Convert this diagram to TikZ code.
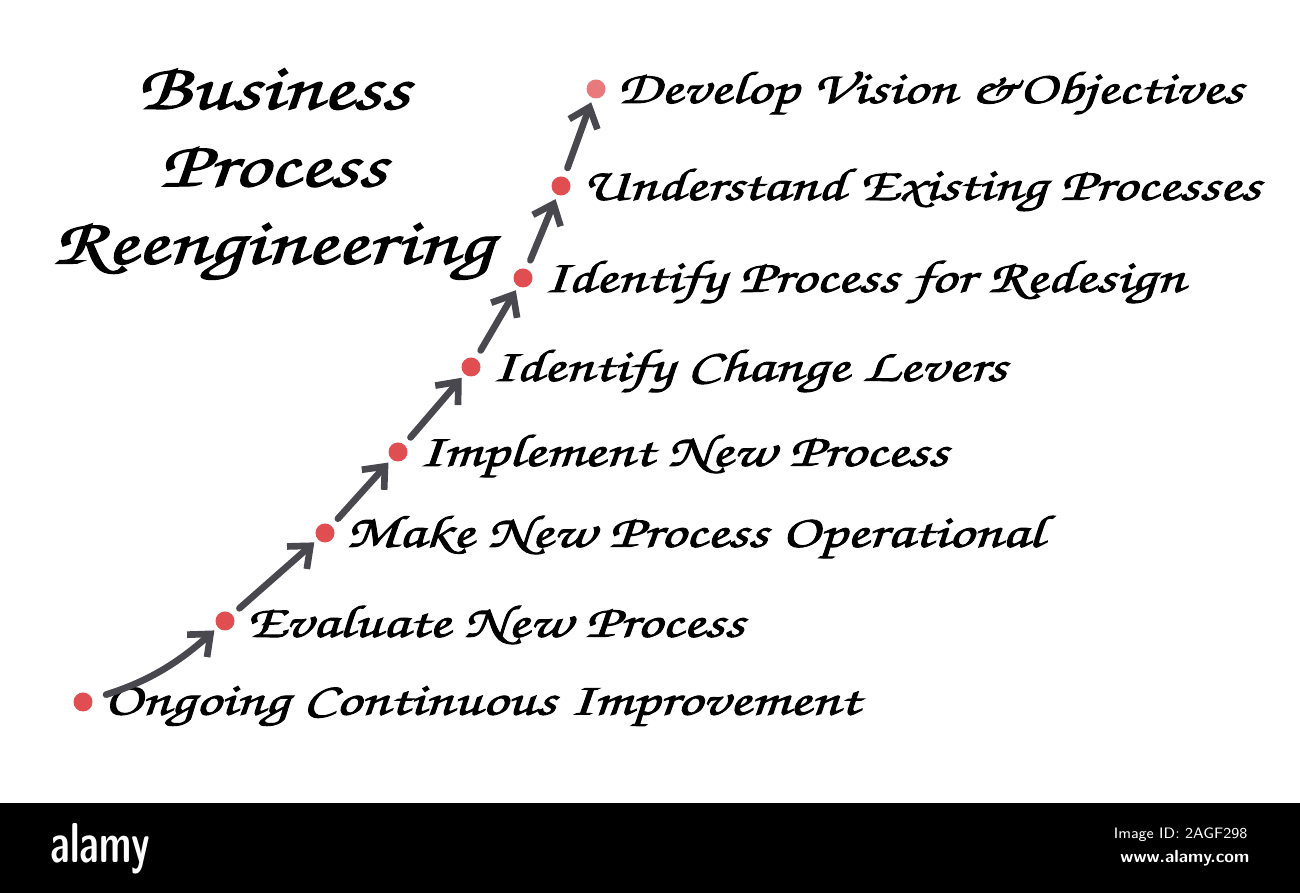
\documentclass[tikz,border=0pt]{standalone}
\usepackage{fontspec}
\newfontfamily\handfont[FakeBold=2,FakeStretch=1.37]{TeX Gyre Chorus}
\usetikzlibrary{positioning,arrows.meta}
\definecolor{dotred}{RGB}{224,78,82}
\definecolor{arrowgray}{RGB}{72,72,78}

\begin{document}
\begin{tikzpicture}[node distance=0.1cm]
  \tikzstyle{stepdot}=[circle,fill=dotred,inner sep=0pt,minimum size=1.9mm]
  \tikzstyle{steptext}=[inner sep=0pt,yshift=-0.04cm,font=\handfont\fontsize{13}{15}\selectfont]
  \tikzstyle{flow}=[draw=arrowgray,line width=1.9pt,line cap=round,shorten <=0.9mm,shorten >=0.4mm,-{Straight Barb[length=1.8mm,width=3mm]}]
  \useasboundingbox (0,0) rectangle (13,8.93);

  % title
  \node[align=center,inner sep=0pt,font=\handfont\fontsize{18.5}{22}\selectfont] (title) at (2.73,7.19) {Business\\Process\\Reengineering};

  % steps
  \node[stepdot] (p1) at (0.83,1.91) {};
  \node[stepdot] (p2) at (2.25,2.72) {};
  \node[stepdot] (p3) at (3.25,3.60) {};
  \node[stepdot] (p4) at (3.98,4.41) {};
  \node[stepdot] (p5) at (4.71,5.26) {};
  \node[stepdot] (p6) at (5.23,6.15) {};
  \node[stepdot] (p7) at (5.61,7.07) {};
  \node[stepdot,fill=dotred!75] (p8) at (5.96,8.04) {};

  \node[steptext, right=of p1] (t1) {Ongoing Continuous Improvement};
  \node[steptext, right=of p2] (t2) {Evaluate New Process};
  \node[steptext, right=of p3] (t3) {Make New Process Operational};
  \node[steptext, right=of p4] (t4) {Implement New Process};
  \node[steptext, right=of p5] (t5) {Identify Change Levers};
  \node[steptext, right=of p6] (t6) {Identify Process for Redesign};
  \node[steptext, right=of p7] (t7) {Understand Existing Processes};
  \node[steptext, right=of p8] (t8) {Develop Vision \&Objectives};

  % arrows
  \draw[flow,shorten <=1.4mm] (p1) to[bend right=12] (p2);
  \draw[flow] (p2) -- (p3);
  \draw[flow] (p3) -- (p4);
  \draw[flow] (p4) -- (p5);
  \draw[flow] (p5) -- (p6);
  \draw[flow] (p6) -- (p7);
  \draw[flow] (p7) -- (p8);

  % footer band
  \fill[black] (0,0) rectangle (13,0.90);
  \node[anchor=west,inner sep=0pt,text=white,font=\sffamily\bfseries\fontsize{16}{16}\selectfont] (logo) at (0.50,0.44) {\scalebox{0.66}[1]{alamy}};
  \node[anchor=east,inner sep=0pt,text=white,font=\sffamily\fontsize{4.3}{4.3}\selectfont] (imgid) at (12.48,0.58) {Image ID: 2AGF298};
  \node[anchor=east,inner sep=0pt,text=white,font=\sffamily\bfseries\fontsize{5}{5}\selectfont] (site) at (12.50,0.35) {www.alamy.com};
\end{tikzpicture}
\end{document}
